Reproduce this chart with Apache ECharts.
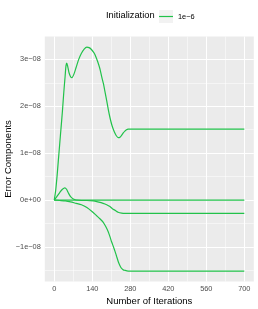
<!DOCTYPE html>
<html>
<head>
<meta charset="utf-8">
<script src="https://cdn.jsdelivr.net/npm/echarts@6/dist/echarts.min.js"></script>
<style>
html,body{margin:0;padding:0;background:#fff;}
#chart{width:258px;height:309px;}
</style>
</head>
<body>
<div id="chart"></div>
<script>
// Values in units of 1e-8
var seriesName = '1e\u22126';
var legendTitle = 'Initialization';
var xTitle = 'Number of Iterations';
var yTitle = 'Error Components';

var xTickValues = [0, 140, 280, 420, 560, 700];
var xTickLabels = ['0', '140', '280', '420', '560', '700'];
var xMinorGrid = [70, 210, 350, 490, 630];
var yTickValues = [-1, 0, 1, 2, 3];
var yTickLabels = ['\u22121e\u221208', '0e+00', '1e\u221208', '2e\u221208', '3e\u221208'];
var yMinorGrid = [-1.5, -0.5, 0.5, 1.5, 2.5];

var aIter = [0,5,10,15,20,25,30,35,40,43,46,49,54,60,65,72,80,90,100,110,120,128,135,145,150,160,168,175,181,187,193,199,205,212,218,224,230,236,242,248,254,260,266,272,280,700];
var aVal  = [0,0.2,0.5,0.85,1.2,1.55,1.9,2.3,2.65,2.86,2.92,2.86,2.72,2.63,2.61,2.68,2.82,3.0,3.13,3.22,3.26,3.25,3.22,3.15,3.1,2.95,2.8,2.62,2.48,2.3,2.12,1.93,1.76,1.6,1.5,1.42,1.36,1.33,1.34,1.38,1.43,1.47,1.5,1.51,1.51,1.51];

var bIter = [0,10,20,30,39,45,52,60,70,80,100,120,144,160,180,193,205,215,224,235,248,260,700];
var bVal  = [0,0.08,0.16,0.23,0.26,0.23,0.15,0.07,0.02,0,-0.01,-0.01,-0.02,-0.04,-0.07,-0.1,-0.14,-0.19,-0.22,-0.26,-0.28,-0.285,-0.285];

var cIter = [0,700];
var cVal  = [0,0];

var dIter = [0,20,40,60,80,100,120,140,155,168,181,190,199,205,211,218,224,230,236,242,248,254,260,267,280,700];
var dVal  = [0,-0.01,-0.02,-0.04,-0.07,-0.1,-0.16,-0.25,-0.33,-0.4,-0.48,-0.57,-0.68,-0.78,-0.89,-1.0,-1.1,-1.21,-1.32,-1.4,-1.46,-1.49,-1.5,-1.51,-1.515,-1.515];

var lineColor = '#21c24a';
var FONT = 'Liberation Sans, Arial, sans-serif';

function pairs(xs, ys) { return xs.map(function (x, i) { return [x, ys[i]]; }); }

function lineSeries(xs, ys) {
  return {
    name: seriesName, type: 'line', data: pairs(xs, ys),
    showSymbol: false, symbol: 'none', smooth: 0.2, z: 3,
    lineStyle: { color: lineColor, width: 1.2 }, itemStyle: { color: lineColor },
    animation: false, silent: true
  };
}

var gridLines = [];
xTickValues.forEach(function (v) { gridLines.push({ xAxis: v, lineStyle: { width: 1 } }); });
xMinorGrid.forEach(function (v) { gridLines.push({ xAxis: v, lineStyle: { width: 0.5 } }); });
yTickValues.forEach(function (v) { gridLines.push({ yAxis: v, lineStyle: { width: 1 } }); });
yMinorGrid.forEach(function (v) { gridLines.push({ yAxis: v, lineStyle: { width: 0.5 } }); });

var chart = echarts.init(document.getElementById('chart'), null, { renderer: 'canvas' });
chart.setOption({
  animation: false,
  backgroundColor: '#fff',
  title: {
    text: legendTitle, left: 106, top: 11, padding: 0,
    textStyle: { fontFamily: FONT, fontSize: 9.3, fontWeight: 'normal', color: '#000' }
  },
  legend: {
    data: [{ name: seriesName, icon: 'rect', itemStyle: { color: lineColor, borderWidth: 0 } }],
    left: 159, top: 12, itemWidth: 14, itemHeight: 1.2, itemGap: 4,
    selectedMode: false,
    textStyle: { fontFamily: FONT, fontSize: 7.4, color: '#000', lineHeight: 9 },
    padding: 0
  },
  graphic: [{
    type: 'rect', left: 159, top: 10, z: -1,
    shape: { width: 14, height: 13 }, style: { fill: '#F2F2F2' }
  }],
  grid: {
    left: 44.8, right: 4.2, top: 36.5, bottom: 27.5,
    containLabel: false, outerBoundsMode: 'none',
    show: true, backgroundColor: '#EBEBEB', borderWidth: 0
  },
  xAxis: {
    type: 'value', min: -35, max: 735,
    name: xTitle, nameLocation: 'middle', nameGap: 15, nameMoveOverlap: false,
    nameTextStyle: { fontFamily: FONT, fontSize: 9.5, color: '#000' },
    axisLine: { show: false },
    axisTick: { show: true, customValues: xTickValues, length: 2.75, lineStyle: { color: '#333', width: 0.8 } },
    axisLabel: {
      customValues: xTickValues, margin: 4, fontFamily: FONT, fontSize: 7.4, color: '#4d4d4d',
      formatter: function (v) { var i = xTickValues.indexOf(v); return i >= 0 ? xTickLabels[i] : ''; }
    },
    splitLine: { show: false }
  },
  yAxis: {
    type: 'value', min: -1.7375, max: 3.4875,
    name: yTitle, nameLocation: 'middle', nameGap: 31, nameRotate: 90, nameMoveOverlap: false,
    nameTextStyle: { fontFamily: FONT, fontSize: 9.5, color: '#000' },
    axisLine: { show: false },
    axisTick: { show: true, customValues: yTickValues, length: 2.75, lineStyle: { color: '#333', width: 0.8 } },
    axisLabel: {
      customValues: yTickValues, margin: 4, fontFamily: FONT, fontSize: 7.4, color: '#4d4d4d',
      formatter: function (v) {
        for (var i = 0; i < yTickValues.length; i++) { if (Math.abs(yTickValues[i] - v) < 1e-9) return yTickLabels[i]; }
        return '';
      }
    },
    splitLine: { show: false }
  },
  series: [
    {
      name: 'grid', type: 'line', data: [], z: 1, silent: true, animation: false,
      markLine: {
        z: 1, silent: true, animation: false, symbol: ['none', 'none'],
        label: { show: false }, emphasis: { disabled: true },
        lineStyle: { color: '#ffffff', type: 'solid', width: 1 },
        data: gridLines
      }
    },
    lineSeries(aIter, aVal),
    lineSeries(bIter, bVal),
    lineSeries(cIter, cVal),
    lineSeries(dIter, dVal)
  ]
});
</script>
</body>
</html>
